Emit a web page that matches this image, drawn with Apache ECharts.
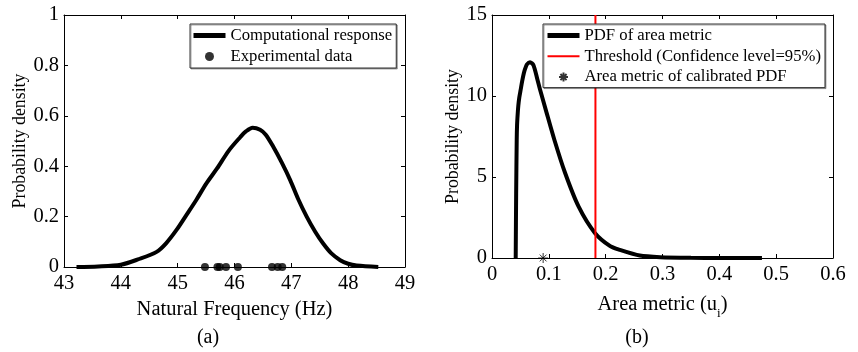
<!DOCTYPE html>
<html>
<head>
<meta charset="utf-8">
<script src="https://cdn.jsdelivr.net/npm/echarts@6/dist/echarts.min.js"></script>
<style>html,body{margin:0;padding:0;background:#fff;}#c{width:858px;height:352px;}</style>
</head>
<body>
<div id="c"></div>
<script>
// Panel (a)
var freqX = [43.22, 43.6, 44.0, 44.3, 44.63, 44.8, 44.98, 45.15, 45.33, 45.5, 45.69, 45.9, 46.1, 46.2, 46.32, 46.45, 46.55, 46.68, 46.83, 46.98, 47.12, 47.27, 47.42, 47.56, 47.7, 47.86, 48.0, 48.15, 48.53];
var freqPdf = [0, 0.002, 0.009, 0.03, 0.06, 0.095, 0.147, 0.205, 0.267, 0.33, 0.39, 0.462, 0.515, 0.538, 0.553, 0.545, 0.525, 0.478, 0.415, 0.345, 0.27, 0.2, 0.14, 0.093, 0.055, 0.027, 0.013, 0.006, 0];
var expFreq = [45.48, 45.70, 45.74, 45.85, 46.06, 46.66, 46.76, 46.84];
var expY = [0, 0, 0, 0, 0, 0, 0, 0];
var aTicksX = [43, 49, 1];
var aTicksY = [0, 1, 0.2];

// Panel (b)
var areaX = [0.0417, 0.0425, 0.0435, 0.0441, 0.0452, 0.0463, 0.048, 0.0505, 0.053, 0.056, 0.0585, 0.0615, 0.0669, 0.073, 0.08, 0.0845, 0.095, 0.1097, 0.1285, 0.152, 0.181, 0.208, 0.225, 0.26, 0.296, 0.35, 0.4, 0.475];
var areaPdf = [0, 4, 7.3, 8.2, 8.9, 9.4, 9.9, 10.4, 10.9, 11.4, 11.7, 11.95, 12.09, 11.9, 11.0, 10.4, 9.1, 7.3, 5.26, 3.2, 1.55, 0.73, 0.5, 0.15, 0.05, 0.01, 0.003, 0];
var thresholdX = [0.182, 0.182];
var thresholdY = [0, 15];
var calibratedX = [0.09];
var calibratedY = [0];
var bTicksX = [0, 0.6, 0.1];
var bTicksY = [0, 15, 5];

function zip(a, b) { return a.map(function (v, i) { return [v, b[i]]; }); }

var FONT = 'Liberation Serif';
var FS = 20.5;
var grids = [
  { left: 64, top: 15, width: 341, height: 252 },
  { left: 492, top: 15, width: 341, height: 243 }
];

function xAx(grid, t, pos, name, show) {
  return {
    type: 'value', gridIndex: grid, position: pos, min: t[0], max: t[1], interval: t[2],
    name: show ? name : '', nameLocation: 'middle', nameGap: 32,
    nameTextStyle: {
      fontFamily: FONT, fontSize: FS, color: '#000',
      rich: { n: { fontFamily: FONT, fontSize: FS, color: '#000' },
              s: { fontFamily: FONT, fontSize: 13, color: '#000', padding: [17, 0, 0, 0] } }
    },
    axisLine: { show: true, onZero: false, lineStyle: { color: '#000', width: 1 } },
    axisTick: { show: true, inside: true, length: 4, lineStyle: { color: '#000' } },
    axisLabel: { show: show, fontFamily: FONT, fontSize: FS, color: '#000', margin: 6 },
    splitLine: { show: false }
  };
}
function yAx(grid, t, pos, name, show, gap) {
  return {
    type: 'value', gridIndex: grid, position: pos, min: t[0], max: t[1], interval: t[2],
    name: show ? name : '', nameLocation: 'middle', nameGap: gap,
    nameTextStyle: { fontFamily: FONT, fontSize: 17.8, color: '#000' },
    axisLine: { show: true, onZero: false, lineStyle: { color: '#000', width: 1 } },
    axisTick: { show: true, inside: true, length: 4, lineStyle: { color: '#000' } },
    axisLabel: { show: show, fontFamily: FONT, fontSize: FS, color: '#000', margin: 5 },
    splitLine: { show: false }
  };
}

var starPath = 'path://M5,0L5,10M0,5L10,5M1.6,1.6L8.4,8.4M8.4,1.6L1.6,8.4';

var legendCommon = {
  orient: 'vertical', itemWidth: 32, itemHeight: 9, itemGap: 4, itemTextGap: 4,
  borderColor: '#333', borderWidth: 1, backgroundColor: '#fff',
  shadowColor: 'rgba(0,0,0,0.35)', shadowOffsetX: 1, shadowOffsetY: 1, shadowBlur: 0,
  selectedMode: false,
  textStyle: { fontFamily: FONT, fontSize: 16.7, color: '#000' }
};

var option = {
  animation: false,
  backgroundColor: '#fff',
  grid: grids,
  xAxis: [
    xAx(0, aTicksX, 'bottom', 'Natural Frequency (Hz)', true),
    xAx(0, aTicksX, 'top', '', false),
    xAx(1, bTicksX, 'bottom', '{n|Area metric (u}{s|i}{n|)}', true),
    xAx(1, bTicksX, 'top', '', false)
  ],
  yAxis: [
    yAx(0, aTicksY, 'left', 'Probability density', true, 28),
    yAx(0, aTicksY, 'right', '', false, 0),
    yAx(1, bTicksY, 'left', 'Probability density', true, 28),
    yAx(1, bTicksY, 'right', '', false, 0)
  ],
  legend: [
    Object.assign({}, legendCommon, {
      left: 190, top: 24, padding: [3, 4, 3, 1],
      data: [
        { name: 'Computational response', lineStyle: { width: 5 } },
        { name: 'Experimental data' }
      ]
    }),
    Object.assign({}, legendCommon, {
      left: 543, top: 24, padding: [3, 4, 2, 2], itemGap: 3.8,
      data: [
        { name: 'PDF of area metric', lineStyle: { width: 5 } },
        { name: 'Threshold (Confidence level=95%)', lineStyle: { width: 2 } },
        { name: 'Area metric of calibrated PDF' }
      ]
    })
  ],
  series: [
    { name: 'Computational response', type: 'line', xAxisIndex: 0, yAxisIndex: 0,
      data: zip(freqX, freqPdf), smooth: 0.3, symbol: 'none', clip: false,
      lineStyle: { color: '#000', width: 4 }, itemStyle: { color: 'rgba(0,0,0,0)' } },
    { name: 'Experimental data', type: 'scatter', xAxisIndex: 0, yAxisIndex: 0,
      data: zip(expFreq, expY), symbol: 'circle', symbolSize: 8, clip: false,
      itemStyle: { color: '#000' } },
    { name: 'PDF of area metric', type: 'line', xAxisIndex: 2, yAxisIndex: 2,
      data: zip(areaX, areaPdf), smooth: 0.25, symbol: 'none', clip: false,
      lineStyle: { color: '#000', width: 4 }, itemStyle: { color: 'rgba(0,0,0,0)' } },
    { name: 'Threshold (Confidence level=95%)', type: 'line', xAxisIndex: 2, yAxisIndex: 2,
      data: zip(thresholdX, thresholdY), symbol: 'none',
      lineStyle: { color: '#ff0000', width: 2 }, itemStyle: { color: 'rgba(255,0,0,0)' } },
    { name: 'Area metric of calibrated PDF', type: 'scatter', xAxisIndex: 2, yAxisIndex: 2,
      data: zip(calibratedX, calibratedY), symbol: starPath, symbolSize: 10, clip: false,
      itemStyle: { color: 'rgba(0,0,0,0)', borderColor: '#000', borderWidth: 1 } }
  ],
  graphic: [
    { type: 'text', x: 208, y: 338, style: { text: '(a)', fontFamily: FONT, fontSize: 20, fill: '#000', textAlign: 'center', textVerticalAlign: 'middle' } },
    { type: 'text', x: 637, y: 338, style: { text: '(b)', fontFamily: FONT, fontSize: 20, fill: '#000', textAlign: 'center', textVerticalAlign: 'middle' } }
  ]
};

var chart = echarts.init(document.getElementById('c'), null, { renderer: 'canvas' });
chart.setOption(option);
</script>
</body>
</html>
